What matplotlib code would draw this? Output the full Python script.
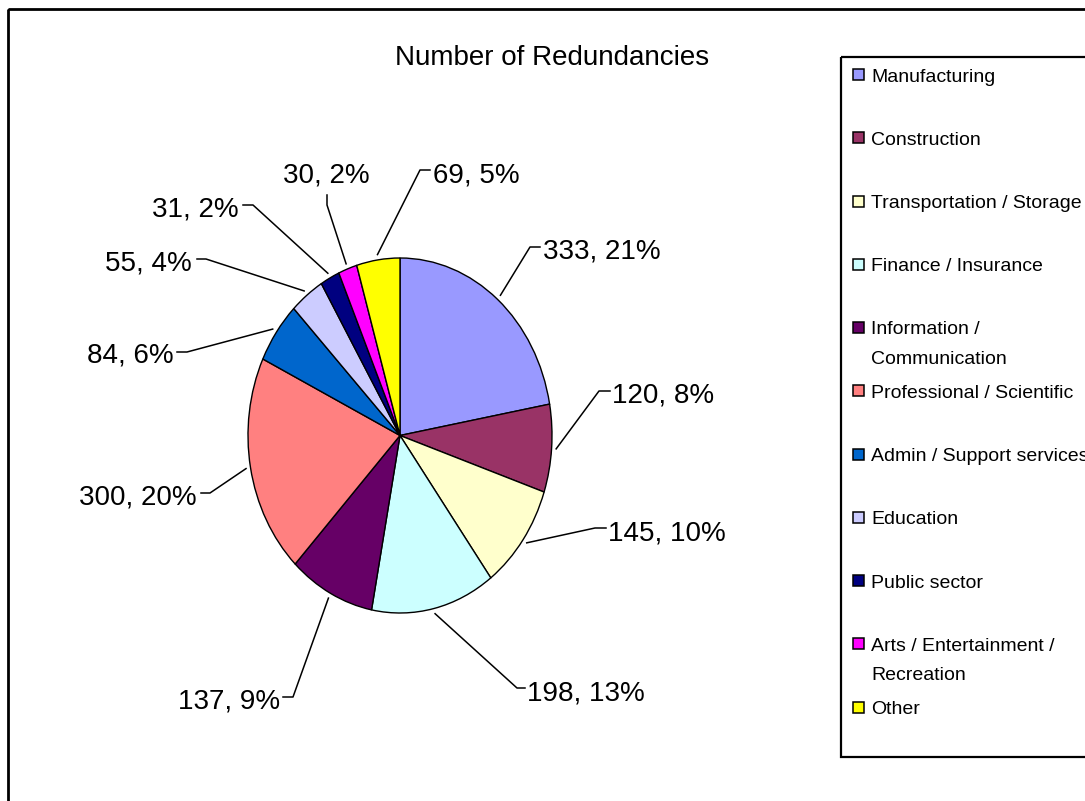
import textwrap
import numpy as np
import matplotlib
matplotlib.use('Agg')
import matplotlib.pyplot as plt
from matplotlib.transforms import Affine2D
from matplotlib.patches import Rectangle
from matplotlib.lines import Line2D

# ---------------- data ----------------
categories = ['Manufacturing', 'Construction', 'Transportation / Storage',
              'Finance / Insurance', 'Information / Communication',
              'Professional / Scientific', 'Admin / Support services',
              'Education', 'Public sector', 'Arts / Entertainment / Recreation',
              'Other']
values = [333, 120, 145, 198, 137, 300, 84, 55, 31, 30, 69]
percent_labels = ['21%', '8%', '10%', '13%', '9%', '20%', '6%', '4%', '2%', '2%', '5%']
colors = ['#9999FF', '#993366', '#FFFFCC', '#CCFFFF', '#660066', '#FF8080',
          '#0066CC', '#CCCCFF', '#000080', '#FF00FF', '#FFFF00']
title = 'Number of Redundancies'

# ---------------- figure ----------------
plt.rcParams['font.family'] = ['Liberation Sans', 'DejaVu Sans']
W, H = 1085, 801
fig = plt.figure(figsize=(W / 100, H / 100), dpi=100)
fig.patch.set_facecolor('white')
px = Affine2D().scale(1, -1).translate(0, H)   # pixel coords, origin top-left

# pie (elliptical, Excel style)
pl, pt, pr, pb = 248, 258, 552, 613
ax = fig.add_axes([pl / W, 1 - pb / H, (pr - pl) / W, (pb - pt) / H])
wedges, _ = ax.pie(values, colors=colors, startangle=90, counterclock=False,
                   wedgeprops=dict(edgecolor='black', linewidth=1.0))
ax.set_aspect('auto')
ax.set_xlim(-1, 1)
ax.set_ylim(-1, 1)
ax.axis('off')
for w in wedges:
    w.set_clip_on(False)

# label layout: (text x, text baseline-center y, ha, elbow x, elbow y, hook x, hook y)
layout = [
    (543, 248, 'left', 530, 247, 540, 247),
    (612, 392, 'left', 599, 391, 610, 391),
    (608, 530, 'left', 595, 528, 606, 528),
    (527, 690, 'left', 517, 688, 525, 688),
    (280, 698, 'right', 293, 697, 283, 697),
    (197, 495, 'right', 210, 493, 201, 493),
    (174, 353, 'right', 187, 352, 177, 352),
    (192, 261, 'right', 206, 259, 197, 259),
    (239, 207, 'right', 253, 205, 243, 205),
    (326, 172, 'center', 327, 205, 327, 195),
    (433, 172, 'left', 420, 170, 430, 170),
]

fig.canvas.draw()
for w, v, p, lay in zip(wedges, values, percent_labels, layout):
    tx, ty, ha, ex, ey, hx, hy = lay
    th = np.deg2rad((w.theta1 + w.theta2) / 2)
    sx, sy = ax.transData.transform((1.03 * np.cos(th), 1.03 * np.sin(th)))
    sy = H - sy
    fig.add_artist(Line2D([sx, ex, hx], [sy, ey, hy], color='black',
                          linewidth=1.1, transform=px))
    fig.text(tx, ty + 10, f'{v}, {p}', fontsize=20, ha=ha, va='baseline',
             transform=px)

# title
fig.text(552, 65, title, fontsize=20, ha='center', va='baseline', transform=px)

# outer border
fig.add_artist(Rectangle((7.5, 8.5), 1100, 900, fill=False, edgecolor='black',
                         linewidth=2.0, transform=px))

# legend
fig.add_artist(Rectangle((841, 57), 300, 700, fill=False, edgecolor='black',
                         linewidth=1.6, transform=px))
for i, (cat, col) in enumerate(zip(categories, colors)):
    yc = 74.5 + i * 63.25
    fig.add_artist(Rectangle((853, yc - 5.5), 11, 11, facecolor=col,
                             edgecolor='black', linewidth=1.1, transform=px))
    for j, line in enumerate(textwrap.wrap(cat, 25)):
        fig.text(871, yc + 7 + j * 29, line, fontsize=14, ha='left',
                 va='baseline', transform=px)

fig.savefig('out.png', dpi=100, facecolor='white')
